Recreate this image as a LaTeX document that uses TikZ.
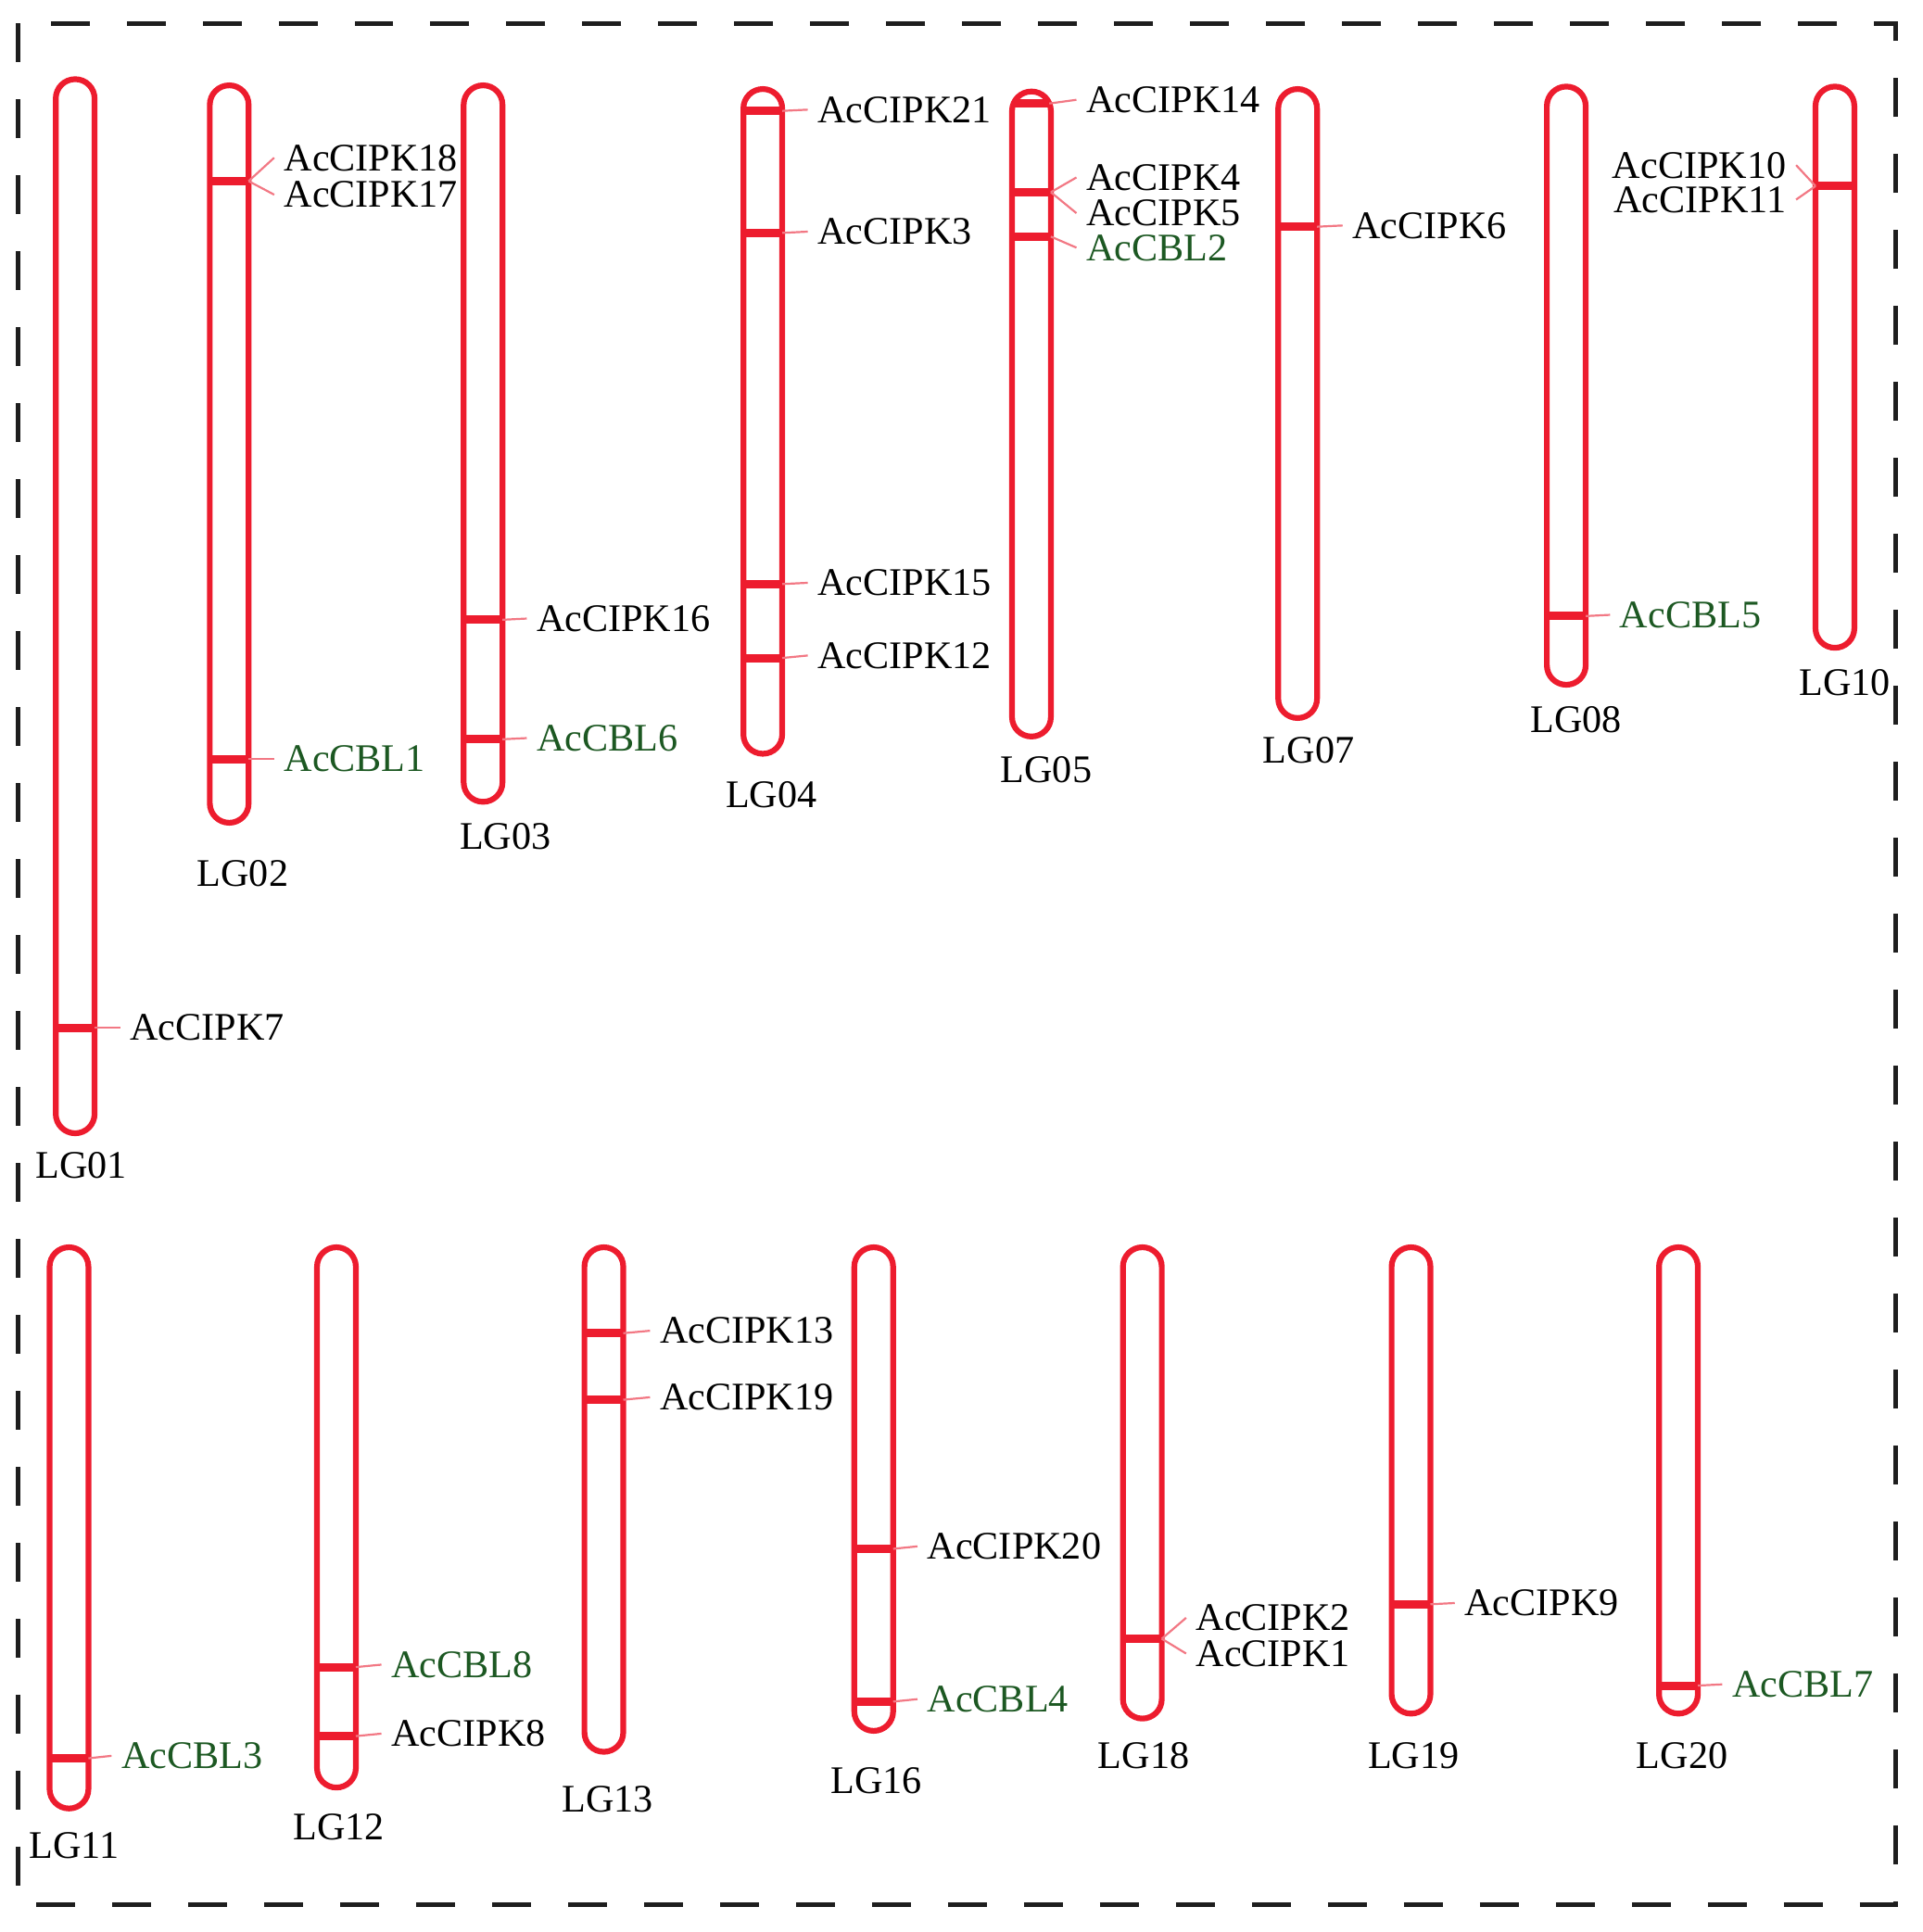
\documentclass[tikz,border=0pt]{standalone}
\usepackage{fontspec}
\setmainfont{Liberation Serif}
\definecolor{chromred}{RGB}{237,28,46}
\definecolor{linkpink}{RGB}{242,120,132}
\definecolor{cblgreen}{RGB}{28,88,34}
\definecolor{framegray}{RGB}{30,30,30}
\begin{document}
\begin{tikzpicture}[x=0.133mm,y=-0.133mm,
  chrom/.style={draw=chromred,line width=0.62mm,rounded corners=2.09mm},
  band/.style={draw=chromred,line width=0.9mm},
  link/.style={draw=linkpink,line width=0.22mm},
  gene/.style={inner xsep=1mm,inner ysep=0.4pt,font=\fontsize{12}{14}\selectfont},
  cbl/.style={gene,text=cblgreen},
  lg/.style={inner sep=0pt,font=\fontsize{12}{14}\selectfont}]
\useasboundingbox (0,0) rectangle (1560,1568);
\draw[framegray,line width=0.5mm,dash pattern=on 4.2mm off 4mm] (15,19) rectangle (1538,1546);
% upper row
\draw[chrom] (45.25,64.25) rectangle (76.75,919.75);
\node[lg] (lg01) at (66,946) {LG01};
\draw[band] (45.25,834) -- (76.75,834) coordinate (pk7);
\node[gene,anchor=west] (cipk7) at (97.5,834) {AcCIPK7};
\draw[link] (pk7) -- (cipk7.west);
\draw[chrom] (170.25,69.25) rectangle (201.75,667.75);
\node[lg] (lg02) at (197,709) {LG02};
\draw[band] (170.25,147) -- (201.75,147) coordinate (pk17);
\node[gene,anchor=west] (cipk18) at (222.5,128) {AcCIPK18};
\node[gene,anchor=west] (cipk17) at (222.5,158) {AcCIPK17};
\draw[link] (pk17) -- (cipk18.west);
\draw[link] (pk17) -- (cipk17.west);
\draw[band] (170.25,616) -- (201.75,616) coordinate (bl1);
\node[cbl,anchor=west] (cbl1) at (222.5,616) {AcCBL1};
\draw[link] (bl1) -- (cbl1.west);
\draw[chrom] (376.25,69.25) rectangle (407.75,650.75);
\node[lg] (lg03) at (410,679) {LG03};
\draw[band] (376.25,503) -- (407.75,503) coordinate (pk16);
\node[gene,anchor=west] (cipk16) at (427.5,502) {AcCIPK16};
\draw[link] (pk16) -- (cipk16.west);
\draw[band] (376.25,600) -- (407.75,600) coordinate (bl6);
\node[cbl,anchor=west] (cbl6) at (427.5,599) {AcCBL6};
\draw[link] (bl6) -- (cbl6.west);
\draw[chrom] (603.25,72.25) rectangle (634.75,611.75);
\node[lg] (lg04) at (626,645) {LG04};
\draw[band] (603.25,90) -- (634.75,90) coordinate (pk21);
\node[gene,anchor=west] (cipk21) at (655.5,89) {AcCIPK21};
\draw[link] (pk21) -- (cipk21.west);
\draw[band] (603.25,189) -- (634.75,189) coordinate (pk3);
\node[gene,anchor=west] (cipk3) at (655.5,188) {AcCIPK3};
\draw[link] (pk3) -- (cipk3.west);
\draw[band] (603.25,474) -- (634.75,474) coordinate (pk15);
\node[gene,anchor=west] (cipk15) at (655.5,473) {AcCIPK15};
\draw[link] (pk15) -- (cipk15.west);
\draw[band] (603.25,534) -- (634.75,534) coordinate (pk12);
\node[gene,anchor=west] (cipk12) at (655.5,532) {AcCIPK12};
\draw[link] (pk12) -- (cipk12.west);
\draw[chrom] (821.25,74.25) rectangle (852.75,597.75);
\node[lg] (lg05) at (849,625) {LG05};
\draw[band] (822.5,84) -- (851.5,84) coordinate (pk14);
\node[gene,anchor=west] (cipk14) at (873.5,81) {AcCIPK14};
\draw[link] (pk14) -- (cipk14.west);
\draw[band] (821.25,156) -- (852.75,156) coordinate (pk4);
\node[gene,anchor=west] (cipk4) at (873.5,144) {AcCIPK4};
\node[gene,anchor=west] (cipk5) at (873.5,173) {AcCIPK5};
\draw[link] (pk4) -- (cipk4.west);
\draw[link] (pk4) -- (cipk5.west);
\draw[band] (821.25,192) -- (852.75,192) coordinate (bl2);
\node[cbl,anchor=west] (cbl2) at (873.5,201) {AcCBL2};
\draw[link] (bl2) -- (cbl2.west);
\draw[chrom] (1037.25,72.25) rectangle (1068.75,582.75);
\node[lg] (lg07) at (1062,609) {LG07};
\draw[band] (1037.25,184) -- (1068.75,184) coordinate (pk6);
\node[gene,anchor=west] (cipk6) at (1089.5,183) {AcCIPK6};
\draw[link] (pk6) -- (cipk6.west);
\draw[chrom] (1255.25,70.25) rectangle (1286.75,555.75);
\node[lg] (lg08) at (1279,584) {LG08};
\draw[band] (1255.25,500) -- (1286.75,500) coordinate (bl5);
\node[cbl,anchor=west] (cbl5) at (1306.5,499) {AcCBL5};
\draw[link] (bl5) -- (cbl5.west);
\draw[chrom] (1473.25,70.25) rectangle (1504.75,525.75);
\node[lg] (lg10) at (1497,554) {LG10};
\draw[band] (1504.75,151) -- (1473.25,151) coordinate (pk10);
\node[gene,anchor=east] (cipk10) at (1457.5,134) {AcCIPK10};
\node[gene,anchor=east] (cipk11) at (1457.5,162) {AcCIPK11};
\draw[link] (pk10) -- (cipk10.east);
\draw[link] (pk10) -- (cipk11.east);
% lower row
\draw[chrom] (40.25,1012.25) rectangle (71.75,1467.75);
\node[lg] (lg11) at (60,1498) {LG11};
\draw[band] (40.25,1427) -- (71.75,1427) coordinate (bl3);
\node[cbl,anchor=west] (cbl3) at (90.5,1425) {AcCBL3};
\draw[link] (bl3) -- (cbl3.west);
\draw[chrom] (257.25,1012.25) rectangle (288.75,1450.75);
\node[lg] (lg12) at (275,1483) {LG12};
\draw[band] (257.25,1353) -- (288.75,1353) coordinate (bl8);
\node[cbl,anchor=west] (cbl8) at (309.5,1351) {AcCBL8};
\draw[link] (bl8) -- (cbl8.west);
\draw[band] (257.25,1409) -- (288.75,1409) coordinate (pk8);
\node[gene,anchor=west] (cipk8) at (309.5,1407) {AcCIPK8};
\draw[link] (pk8) -- (cipk8.west);
\draw[chrom] (474.25,1012.25) rectangle (505.75,1421.75);
\node[lg] (lg13) at (493,1460) {LG13};
\draw[band] (474.25,1082) -- (505.75,1082) coordinate (pk13);
\node[gene,anchor=west] (cipk13) at (527.5,1080) {AcCIPK13};
\draw[link] (pk13) -- (cipk13.west);
\draw[band] (474.25,1136) -- (505.75,1136) coordinate (pk19);
\node[gene,anchor=west] (cipk19) at (527.5,1134) {AcCIPK19};
\draw[link] (pk19) -- (cipk19.west);
\draw[chrom] (693.25,1012.25) rectangle (724.75,1404.75);
\node[lg] (lg16) at (711,1445) {LG16};
\draw[band] (693.25,1257) -- (724.75,1257) coordinate (pk20);
\node[gene,anchor=west] (cipk20) at (744.5,1255) {AcCIPK20};
\draw[link] (pk20) -- (cipk20.west);
\draw[band] (693.25,1381) -- (724.75,1381) coordinate (bl4);
\node[cbl,anchor=west] (cbl4) at (744.5,1379) {AcCBL4};
\draw[link] (bl4) -- (cbl4.west);
\draw[chrom] (911.25,1012.25) rectangle (942.75,1394.75);
\node[lg] (lg18) at (928,1425) {LG18};
\draw[band] (911.25,1330) -- (942.75,1330) coordinate (pk2);
\node[gene,anchor=west] (cipk2) at (962.5,1313) {AcCIPK2};
\node[gene,anchor=west] (cipk1) at (962.5,1342) {AcCIPK1};
\draw[link] (pk2) -- (cipk2.west);
\draw[link] (pk2) -- (cipk1.west);
\draw[chrom] (1129.25,1012.25) rectangle (1160.75,1390.75);
\node[lg] (lg19) at (1147,1425) {LG19};
\draw[band] (1129.25,1302) -- (1160.75,1302) coordinate (pk9);
\node[gene,anchor=west] (cipk9) at (1180.5,1301) {AcCIPK9};
\draw[link] (pk9) -- (cipk9.west);
\draw[chrom] (1346.25,1012.25) rectangle (1377.75,1390.75);
\node[lg] (lg20) at (1365,1425) {LG20};
\draw[band] (1346.25,1368) -- (1377.75,1368) coordinate (bl7);
\node[cbl,anchor=west] (cbl7) at (1397.5,1367) {AcCBL7};
\draw[link] (bl7) -- (cbl7.west);
\end{tikzpicture}
\end{document}
